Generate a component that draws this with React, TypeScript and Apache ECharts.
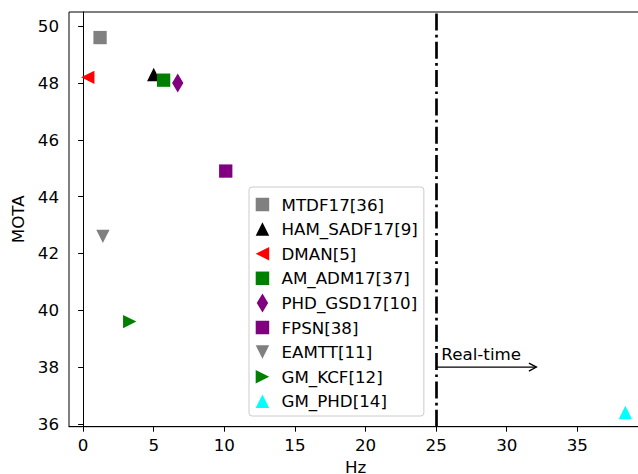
import React, { useEffect, useRef } from "react";
import * as echarts from "echarts";

// ---- data ----
const seriesNames = [
  "MTDF17[36]",
  "HAM_SADF17[9]",
  "DMAN[5]",
  "AM_ADM17[37]",
  "PHD_GSD17[10]",
  "FPSN[38]",
  "EAMTT[11]",
  "GM_KCF[12]",
  "GM_PHD[14]",
];
const hzValues = [1.2, 5.0, 0.33, 5.7, 6.7, 10.1, 1.4, 3.3, 38.4];
const motaValues = [49.6, 48.3, 48.2, 48.1, 48.0, 44.9, 42.6, 39.6, 36.4];
const markerShapes = [
  "square",
  "triUp",
  "triLeft",
  "square",
  "thinDiamond",
  "square",
  "triDown",
  "triRight",
  "triUp",
];
const markerColors = [
  "#808080",
  "#000000",
  "#ff0000",
  "#008000",
  "#800080",
  "#800080",
  "#808080",
  "#008000",
  "#00ffff",
];
const xTickValues = [0, 5, 10, 15, 20, 25, 30, 35];
const yTickValues = [36, 38, 40, 42, 44, 46, 48, 50];
const realTimeThreshold = 25;
const arrowStart = [25, 38];
const arrowEnd = [32.1, 38];
const arrowLabelPos = [25.37, 38.47];
const arrowLabel = "Real-time";

// ---- styles ----
const SHAPE_PATH: Record<string, string> = {
  square: "path://M0,0L10,0L10,10L0,10Z",
  triUp: "path://M5,0L10,10L0,10Z",
  triDown: "path://M0,0L10,0L5,10Z",
  triLeft: "path://M0,5L10,0L10,10Z",
  triRight: "path://M10,5L0,0L0,10Z",
  thinDiamond: "path://M3,0L6,5L3,10L0,5Z",
};
const SHAPE_SIZE: Record<string, number[]> = {
  square: [13.3, 13.3],
  triUp: [13.3, 13.3],
  triDown: [13.3, 13.3],
  triLeft: [13.3, 13.3],
  triRight: [13.3, 13.3],
  thinDiamond: [11.3, 18.8],
};
const FONT = "DejaVu Sans";
const FS = 16.7;

export default function App() {
  const ref = useRef<HTMLDivElement>(null);
  useEffect(() => {
    if (!ref.current) return;
    const chart = echarts.init(ref.current, undefined, { renderer: "svg" });

    const scatterSeries: any[] = seriesNames.map((name, i) => ({
      type: "scatter",
      name,
      data: [[hzValues[i], motaValues[i]]],
      symbol: SHAPE_PATH[markerShapes[i]],
      symbolSize: SHAPE_SIZE[markerShapes[i]],
      itemStyle: { color: markerColors[i], opacity: 1 },
      z: 3,
      ...(i === 0
        ? {
            markLine: {
              silent: true,
              symbol: ["none", "none"],
              label: { show: false },
              lineStyle: {
                color: "#000",
                width: 2.67,
                type: [17, 4.3, 2.7, 4.3],
              },
              data: [{ xAxis: realTimeThreshold }],
            },
          }
        : {}),
    }));

    const arrowSeries = {
      type: "custom",
      name: "annotation",
      coordinateSystem: "cartesian2d",
      silent: true,
      z: 4,
      data: [[arrowStart[0], arrowStart[1]]],
      renderItem: (_params: any, api: any) => {
        const s = api.coord(arrowStart);
        const e = api.coord(arrowEnd);
        const t = api.coord(arrowLabelPos);
        return {
          type: "group",
          children: [
            {
              type: "line",
              shape: { x1: s[0], y1: s[1], x2: e[0], y2: e[1] },
              style: { stroke: "#000", lineWidth: 1.33 },
            },
            {
              type: "polyline",
              shape: {
                points: [
                  [e[0] - 7.5, e[1] - 4],
                  [e[0], e[1]],
                  [e[0] - 7.5, e[1] + 4],
                ],
              },
              style: { stroke: "#000", fill: null, lineWidth: 1.33 },
            },
            {
              type: "text",
              x: t[0],
              y: t[1],
              style: {
                text: arrowLabel,
                fontSize: FS,
                fontFamily: FONT,
                fill: "#000",
                align: "left",
                verticalAlign: "middle",
              },
            },
          ],
        };
      },
    };

    const axisCommon = {
      type: "value",
      splitLine: { show: false },
      axisLine: { show: true, lineStyle: { color: "#000", width: 1 } },
      nameTextStyle: { fontSize: FS, fontFamily: FONT, color: "#000" },
      nameLocation: "middle",
    };

    chart.setOption({
      animation: false,
      backgroundColor: "#ffffff",
      grid: {
        left: 69,
        top: 12,
        width: 573.3,
        height: 414.7,
        show: true,
        borderColor: "#000",
        borderWidth: 1,
        backgroundColor: "transparent",
        containLabel: false,
        outerBoundsMode: "none",
      },
      xAxis: {
        ...axisCommon,
        min: -1,
        max: 39.6,
        name: "Hz",
        nameGap: 32,
        axisTick: {
          show: true,
          length: 5,
          customValues: xTickValues,
          lineStyle: { color: "#000", width: 1 },
        },
        axisLabel: {
          customValues: xTickValues,
          fontSize: FS,
          fontFamily: FONT,
          color: "#000",
          margin: 10,
        },
      },
      yAxis: {
        ...axisCommon,
        min: 35.9,
        max: 50.5,
        name: "MOTA",
        nameGap: 39,
        axisTick: {
          show: true,
          length: 5,
          customValues: yTickValues,
          lineStyle: { color: "#000", width: 1 },
        },
        axisLabel: {
          customValues: yTickValues,
          fontSize: FS,
          fontFamily: FONT,
          color: "#000",
          margin: 10,
        },
      },
      legend: {
        orient: "vertical",
        left: 249,
        top: 187,
        padding: [7.5, 6, 4.7, 6.7],
        itemWidth: 13.5,
        itemHeight: 19,
        itemGap: 4.6,
        selectedMode: false,
        symbolKeepAspect: true,
        backgroundColor: "rgba(255,255,255,0.8)",
        borderColor: "#cccccc",
        borderWidth: 1,
        borderRadius: 3,
        textStyle: {
          fontSize: FS,
          fontFamily: FONT,
          color: "#000",
          lineHeight: 20,
          padding: [0, 0, 0, 7.3],
        },
        data: seriesNames.map((name, i) => ({
          name,
          icon: SHAPE_PATH[markerShapes[i]],
        })),
      },
      series: [...scatterSeries, arrowSeries],
    });

    return () => chart.dispose();
  }, []);

  return (
    <div
      ref={ref}
      style={{
        position: "fixed",
        left: 0,
        top: 0,
        width: 638,
        height: 474,
        background: "#fff",
      }}
    />
  );
}
